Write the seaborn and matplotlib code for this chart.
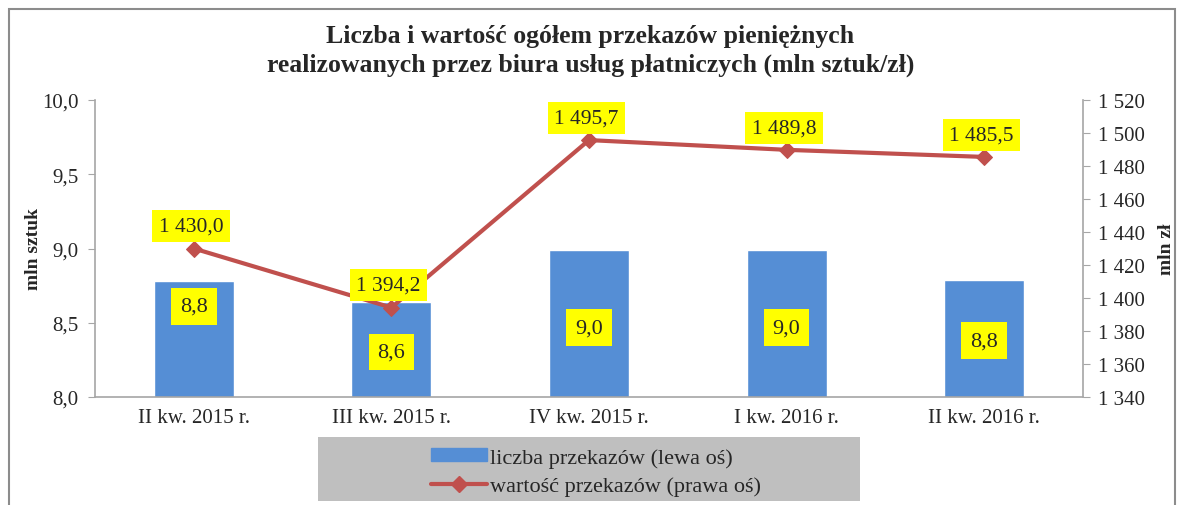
import matplotlib
matplotlib.use("Agg")
import matplotlib.pyplot as plt
import matplotlib.ticker as mticker
from matplotlib.patches import Rectangle, Patch
from matplotlib.lines import Line2D
import seaborn as sns
import pandas as pd

quarters = ["II kw. 2015 r.", "III kw. 2015 r.", "IV kw. 2015 r.", "I kw. 2016 r.", "II kw. 2016 r."]
liczba = [8.78, 8.64, 8.99, 8.99, 8.79]
wartosc = [1430.0, 1394.2, 1495.7, 1489.8, 1485.5]

title = "Liczba i wartość ogółem przekazów pieniężnych\nrealizowanych przez biura usług płatniczych (mln sztuk/zł)"
bar_name = "liczba przekazów (lewa oś)"
line_name = "wartość przekazów (prawa oś)"

BAR_COLOR = "#558ED5"
LINE_COLOR = "#C0504D"
GRAY = "#A6A6A6"

sns.set_style("white")
plt.rcParams["font.family"] = ["Liberation Serif", "DejaVu Serif"]

df = pd.DataFrame({"kw": quarters, "liczba": liczba, "wartosc": wartosc, "pos": range(len(quarters))})

fig = plt.figure(figsize=(11.81, 5.06), dpi=100)
ax = fig.add_axes([95 / 1181, 1 - 398 / 506, 988 / 1181, 297 / 506])

sns.barplot(data=df, x="kw", y="liczba", color=BAR_COLOR, width=0.405, saturation=1, ax=ax)
ax.set_ylim(8.0, 10.0)
ax.set_xlim(-0.5, len(quarters) - 0.5)
ax.set_yticks([8.0, 8.5, 9.0, 9.5, 10.0])
ax.yaxis.set_major_formatter(mticker.FuncFormatter(lambda v, p: f"{v:.1f}".replace(".", ",")))
ax.set_xlabel("")
ax.set_ylabel("mln sztuk", fontsize=14, fontweight="bold", labelpad=0)
ax.tick_params(axis="y", labelsize=15, length=5, color=GRAY, left=True, pad=7)
ax.tick_params(axis="x", labelsize=15, length=0, pad=8)
for s in ["top", "right"]:
    ax.spines[s].set_visible(False)
for s in ["left", "bottom"]:
    ax.spines[s].set_color(GRAY)
    ax.spines[s].set_linewidth(1.2)

ax2 = ax.twinx()
sns.lineplot(data=df, x="pos", y="wartosc", color=LINE_COLOR, linewidth=3, marker="D",
             markersize=8, markeredgecolor=LINE_COLOR, ax=ax2)
ax2.set_ylim(1340, 1520)
ax2.set_yticks(range(1340, 1521, 20))
ax2.yaxis.set_major_formatter(mticker.FuncFormatter(lambda v, p: f"{int(v):,}".replace(",", " ")))
ax2.set_ylabel("mln zł", fontsize=14, fontweight="bold", labelpad=9)
ax2.tick_params(axis="y", labelsize=15, length=5, color=GRAY, right=True, pad=6)
for s in ["top", "left", "bottom"]:
    ax2.spines[s].set_visible(False)
ax2.spines["right"].set_color(GRAY)
ax2.spines["right"].set_linewidth(1.2)
ax2.set_xlabel("")

bar_box = dict(boxstyle="square,pad=0.4", fc="#FFFF00", ec="none")
line_box = dict(boxstyle="square,pad=0.3", fc="#FFFF00", ec="none")
# bar labels: offsets below bar top in points
bar_offsets = [-18, -36, -56, -56, -44]
for i, (v, off) in enumerate(zip(liczba, bar_offsets)):
    ax.annotate(f"{v:.1f}".replace(".", ","), (i, v), xytext=(0, off), textcoords="offset points",
                ha="center", va="center", fontsize=16, bbox=bar_box, zorder=5)
for i, v in enumerate(wartosc):
    txt = f"{v:,.1f}".replace(",", " ").replace(".", ",")
    ax2.annotate(txt, (i, v), xytext=(-2, 16), textcoords="offset points",
                 ha="center", va="center", fontsize=15.5, bbox=line_box, zorder=5)

fig.text(0.5, 1 - 51 / 506, title, ha="center", va="center", fontsize=18.5, fontweight="bold",
         linespacing=1.3)

# figure frame
fig.patches.append(Rectangle((9 / 1181, -0.05), 1166 / 1181, 1 - 10 / 506 + 0.05,
                             transform=fig.transFigure, fill=False, ec="#8C8C8C", lw=1.5))
# legend background
fig.patches.append(Rectangle((318 / 1181, 1 - 502 / 506), 542 / 1181, 64 / 506,
                             transform=fig.transFigure, fc="#BFBFBF", ec="none"))
handles = [Patch(color=BAR_COLOR),
           Line2D([], [], color=LINE_COLOR, lw=3, marker="D", markersize=8)]
fig.legend(handles, [bar_name, line_name], loc="center", bbox_to_anchor=(596 / 1181, 1 - 473 / 506),
           frameon=False, fontsize=16, handlelength=2.5, handleheight=0.5, handletextpad=0.15,
           labelspacing=0.4, borderpad=0)

fig.savefig("out.png", dpi=100)
